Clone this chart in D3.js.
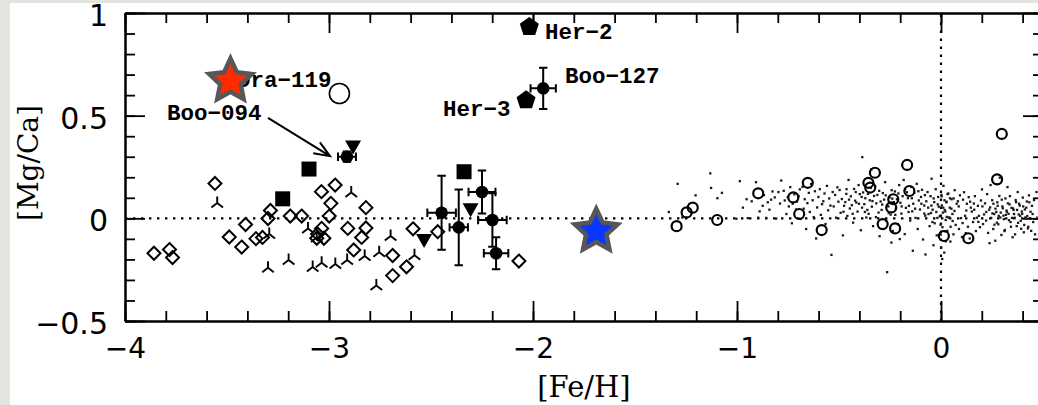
<!DOCTYPE html>
<html>
<head>
<meta charset="utf-8">
<script src="https://cdn.jsdelivr.net/npm/d3@7"></script>
<style>
  html, body { margin: 0; padding: 0; background: #e4e4e0; }
  svg { display: block; }
</style>
</head>
<body>
<svg id="chart" width="1038" height="405"></svg>
<script>
// ---- data: [Fe/H], [Mg/Ca] pairs ----
const diamonds = [
  [-3.858,-0.170],[-3.782,-0.152],[-3.767,-0.191],[-3.559,0.170],[-3.489,-0.091],
  [-3.428,-0.140],[-3.409,-0.030],[-3.358,-0.099],[-3.326,-0.093],[-3.299,-0.001],
  [-3.287,0.038],[-3.190,0.011],[-3.134,0.011],[-3.037,0.130],[-2.970,0.162],
  [-2.991,0.073],[-2.999,0.011],[-3.036,-0.049],[-3.056,-0.076],[-3.025,-0.097],
  [-3.060,-0.097],[-2.908,-0.049],[-2.819,0.052],[-2.819,-0.047],[-2.840,-0.093],
  [-2.879,-0.154],[-2.688,-0.181],[-2.688,-0.279],[-2.620,-0.236],[-2.588,-0.051],
  [-2.467,-0.065],[-2.069,-0.208]
];
const wyes = [
  [-3.548,0.075],[-3.299,-0.241],[-3.198,-0.203],[-3.293,-0.076],[-3.103,-0.049],
  [-3.080,-0.237],[-3.036,-0.216],[-3.060,-0.093],[-2.969,-0.223],[-2.911,-0.203],
  [-2.891,0.126],[-2.825,-0.184],[-2.768,-0.327],[-2.754,-0.165],[-2.698,-0.086],
  [-2.581,-0.180]
];
const openCircles = [
  [-1.296,-0.038],[-1.247,0.029],[-1.217,0.052],[-1.097,-0.008],[-0.896,0.122],
  [-0.724,0.102],[-0.695,0.021],[-0.653,0.173],[-0.585,-0.057],[-0.356,0.173],
  [-0.347,0.150],[-0.324,0.222],[-0.286,-0.028],[-0.244,0.053],[-0.234,0.093],
  [-0.225,-0.049],[-0.166,0.260],[-0.155,0.133],[0.014,-0.086],[0.134,-0.097],
  [0.275,0.190],[0.298,0.411]
];
const squares = [[-3.098,0.240],[-3.227,0.095],[-2.338,0.227]];
const triangles = [[-2.882,0.350],[-2.306,0.044],[-2.534,-0.106]];
const pentagons = [[-2.018,0.937],[-2.034,0.580]];
// filled points with errors: [Fe/H], [Mg/Ca], err[Fe/H], err[Mg/Ca]
const errPoints = [
  [-2.912,0.300,0.044,0.025],
  [-1.950,0.633,0.062,0.100],
  [-2.448,0.027,0.070,0.180],
  [-2.364,-0.044,0.045,0.185],
  [-2.250,0.128,0.066,0.105],
  [-2.199,-0.008,0.070,0.130],
  [-2.181,-0.170,0.060,0.078]
];
const draHollow = [-2.949,0.608];
const redStar = [-3.483,0.669];
const blueStar = [-1.690,-0.063];
const labelNames = ["Dra\u2212119","Boo\u2212094","Her\u22122","Boo\u2212127","Her\u22123"];
const labelAnchors = [[-3.451,0.639],[-3.794,0.480],[-1.941,0.873],[-1.843,0.659],[-2.441,0.500]];
const arrowFrom = [-3.299,0.489];
const arrowTo = [-2.995,0.303];
const xMajorTicks = [-4,-3,-2,-1,0];
const yMajorTicks = [-0.5,0,0.5,1];

// Milky Way field stars
const diskDots = [
  [-1.334,0.031],[-1.291,0.168],[-1.268,0.004],[-1.203,0.112],[-1.131,0.219],[-1.127,0.148],[-1.096,0.098],[-1.074,0.124],
  [-1.003,-0.002],[-0.986,0.181],[-0.971,0.052],[-0.953,0.093],[-0.947,0.001],[-0.928,0.083],
  [-0.907,0.176],[-0.896,0.003],[-0.889,0.034],[-0.874,0.061],[-0.868,0.113],[-0.857,0.002],[-0.849,0.078],
  [-0.841,0.042],[-0.833,0.091],[-0.826,0.131],[-0.815,0.102],[-0.808,-0.001],
  [-0.797,0.128],[-0.789,0.072],[-0.783,0.184],[-0.771,0.134],[-0.766,0.087],[-0.758,0.021],
  [-0.751,0.103],[-0.746,0.058],[-0.739,0.152],[-0.731,-0.024],[-0.727,0.071],[-0.719,0.117],[-0.711,0.043],
  [-0.706,0.082],[-0.698,0.108],[-0.692,0.141],[-0.687,-0.003],[-0.679,0.153],[-0.673,0.047],[-0.668,0.093],[-0.661,-0.052],
  [-0.655,0.074],[-0.648,0.124],[-0.643,0.031],[-0.637,0.167],[-0.629,0.088],[-0.624,0.006],[-0.618,0.132],[-0.612,-0.098],
  [-0.607,0.053],[-0.601,0.104],[-0.594,0.142],[-0.589,0.017],[-0.583,0.069],[-0.577,0.083],[-0.571,0.121],[-0.566,-0.028],[-0.559,0.158],
  [-0.553,0.039],[-0.548,0.097],[-0.542,0.062],[-0.537,-0.178],[-0.531,0.128],[-0.526,0.058],[-0.519,0.114],[-0.514,0.003],[-0.508,0.151],[-0.503,0.081],
  [-0.497,0.138],[-0.492,0.027],[-0.486,0.094],[-0.481,-0.083],[-0.475,0.061],[-0.469,0.079],[-0.464,0.119],[-0.459,0.012],[-0.453,0.187],[-0.447,0.048],
  [-0.442,0.107],[-0.437,0.064],[-0.431,-0.021],[-0.426,0.143],[-0.421,0.086],
  [-0.415,0.077],[-0.409,0.033],[-0.404,0.162],[-0.398,0.118],[-0.393,-0.058],[-0.387,0.052],
  [-0.382,0.126],[-0.376,0.069],[-0.371,0.098],[-0.366,0.004],[-0.361,0.041],
  [-0.355,0.022],[-0.349,0.088],[-0.344,0.148],[-0.339,0.057],[-0.333,-0.038],[-0.328,0.109],
  [-0.323,0.157],[-0.317,0.073],[-0.312,0.114],[-0.306,0.028],[-0.301,-0.087],[-0.296,0.082],
  [-0.291,0.041],[-0.285,0.123],[-0.279,0.091],[-0.274,0.176],[-0.269,-0.012],[-0.263,0.063],
  [-0.258,0.058],[-0.252,0.102],[-0.247,0.018],[-0.242,0.137],[-0.236,-0.062],[-0.231,0.079],
  [-0.386,0.298],[-0.226,0.131],[-0.221,0.047],[-0.216,0.093],[-0.211,-0.029],[-0.205,0.162],
  [-0.199,0.076],[-0.194,0.023],[-0.188,0.108],[-0.183,0.187],[-0.178,-0.077],[-0.172,0.051],[-0.167,0.127],
  [-0.341,0.238],[-0.162,0.098],[-0.157,0.061],[-0.151,-0.011],[-0.146,0.153],[-0.141,0.034],
  [-0.136,0.071],[-0.131,0.124],[-0.125,0.002],[-0.119,0.168],[-0.114,-0.052],[-0.109,0.087],
  [-0.103,0.043],[-0.098,0.104],[-0.093,0.139],[-0.088,-0.103],[-0.082,0.062],[-0.077,0.013],
  [-0.072,0.083],[-0.066,0.128],[-0.061,0.021],[-0.056,-0.038],[-0.051,0.108],[-0.046,0.193],
  [-0.041,0.042],[-0.036,0.097],[-0.031,-0.024],[-0.026,0.142],[-0.021,-0.083],[-0.016,0.068],[-0.264,-0.262],
  [-0.011,0.057],[-0.006,0.009],[0.002,0.114],[0.007,-0.043],[0.012,0.158],[0.017,0.088],
  [-0.243,-0.118],[0.021,0.033],[0.026,0.078],[0.031,-0.061],[0.036,0.121],[0.041,0.004],[0.046,-0.113],
  [-0.202,-0.101],[0.051,0.047],[0.057,-0.013],[0.062,0.097],[0.067,0.137],[0.072,-0.032],[0.077,0.071],[-0.138,-0.158],
  [-0.082,0.023],[-0.076,-0.176],[0.083,0.083],[0.088,-0.052],[0.093,0.112],[0.098,0.001],[0.103,-0.091],
  [-0.047,0.062],[-0.042,-0.018],[0.108,0.091],[0.113,0.127],[0.118,0.012],[0.122,-0.072],[-0.037,-0.131],
  [-0.023,0.031],[-0.018,0.002],[0.127,0.071],[0.132,-0.041],[0.136,0.103],[0.141,-0.098],[0.146,0.052],
  [-0.004,0.012],[-0.002,-0.031],[0.004,0.063],[0.003,0.107],[-0.001,-0.079],[0.001,-0.142],[0.006,-0.198],[0.009,0.028],
  [0.018,0.041],[0.023,-0.008],[0.027,0.081],[0.019,-0.063],[0.032,0.118],[0.024,-0.112],[0.016,-0.167],
  [0.038,0.003],[0.043,0.052],[0.047,-0.041],[0.052,0.093],[0.056,0.021],[0.061,-0.078],
  [0.151,0.033],[0.157,-0.018],[0.161,0.072],[0.166,0.108],[0.171,-0.062],[0.176,0.003],
  [0.181,0.061],[0.186,0.012],[0.191,-0.043],[0.196,0.087],[0.201,0.141],[0.206,-0.028],
  [0.211,0.019],[0.216,0.073],[0.221,-0.011],[0.226,0.118],[0.231,-0.071],[0.236,0.042],
  [0.241,0.053],[0.246,0.002],[0.251,0.088],[0.256,-0.052],[0.261,0.021],[0.266,-0.109],
  [0.271,0.031],[0.276,0.078],[0.281,-0.029],[0.286,0.109],[0.291,0.004],[0.296,-0.081],
  [0.301,0.058],[0.306,0.013],[0.311,-0.062],[0.316,0.097],[0.321,0.038],[0.326,0.152],
  [0.331,0.022],[0.336,0.068],[0.341,-0.018],[0.346,0.051],[0.351,-0.092],
  [0.356,0.041],[0.361,0.003],[0.366,0.089],[0.371,-0.038],[0.376,0.128],[0.381,0.019],
  [0.386,0.062],[0.391,-0.012],[0.396,0.033],[0.401,0.101],[0.406,-0.068],
  [0.252,0.024],[0.257,0.071],[0.262,-0.031],[0.267,0.047],[0.243,0.162],[0.238,-0.121],
  [0.411,0.043],[0.416,0.001],[0.421,0.082],[0.426,-0.049],[0.431,0.112],
  [0.283,0.012],[0.278,0.061],[0.288,0.198],[0.274,-0.021],[0.293,0.028],
  [0.303,0.049],[0.308,-0.004],[0.298,0.091],[0.313,-0.057],[0.318,0.017],
  [0.323,0.032],[0.328,0.073],[0.333,-0.009],[0.338,0.108],[0.343,-0.041],
  [0.348,0.002],[0.353,0.048],[0.358,0.021],[0.363,-0.078],[0.368,0.079],
  [0.373,0.041],[0.378,-0.022],[0.383,0.071],[0.388,0.012],[0.393,-0.051],
  [0.398,0.022],[0.403,0.058],[0.408,-0.032],[0.413,0.004],
  [0.418,0.052],[0.423,0.011],[0.428,-0.041],[0.433,0.078],
  [0.436,0.001],[0.439,0.032],[0.442,-0.061],[0.446,0.061],
  [0.449,0.021],[0.452,-0.018],[0.456,0.089],[0.461,-0.078],[0.468,0.128],[0.472,0.003],
  [-0.478,0.032],[-0.463,0.142],[-0.451,0.091],[-0.433,0.022],[-0.418,0.128],[-0.402,0.071],
  [-0.389,0.104],[-0.373,0.031],[-0.358,0.119],[-0.336,0.084],[-0.319,0.006],[-0.303,0.134],
  [-0.288,0.067],[-0.271,0.112],[-0.256,0.026],[-0.239,0.096],[-0.224,0.017],[-0.209,0.121],
  [-0.193,0.058],[-0.176,0.141],[-0.159,0.031],[-0.143,0.098],[-0.127,0.047],[-0.111,0.132],
  [-0.096,0.071],[-0.079,0.113],[-0.063,0.052],[-0.049,0.026],[-0.033,0.079],[-0.014,0.104],
  [0.011,0.052],[0.028,0.007],[0.044,0.098],[0.066,0.036],[0.087,0.058],[0.106,-0.023],
  [0.124,0.038],[0.143,0.081],[0.163,0.042],[0.183,-0.017],[0.203,0.058],[0.222,0.031]
];

// ---- layout ----
const svg = d3.select("#chart");
const W = 1038, H = 405;
const x = d3.scaleLinear().domain([-4, 0.5]).range([125, 1043]);
const y = d3.scaleLinear().domain([-0.5, 1]).range([321, 13]);

// white panel on the grey page
svg.append("rect").attr("x", 10).attr("y", 3).attr("width", W - 10).attr("height", H - 3).attr("fill", "#ffffff");

const ink = "#000";

// reference lines at [Mg/Ca]=0 and [Fe/H]=0
svg.append("line")
  .attr("x1", x(-4)).attr("x2", x(0.5)).attr("y1", y(0)).attr("y2", y(0))
  .attr("stroke", ink).attr("stroke-width", 2.2).attr("stroke-dasharray", "2.4 5.6");
svg.append("line")
  .attr("x1", x(0)).attr("x2", x(0)).attr("y1", y(-0.5)).attr("y2", y(1))
  .attr("stroke", ink).attr("stroke-width", 2.2).attr("stroke-dasharray", "2.4 5.6");

// ---- axes: inward major and minor ticks on all four sides ----
const minorX = d3.range(-4, 0.501, 0.2);
const minorY = d3.range(-0.5, 1.001, 0.1);
const fmt = d3.format("");

function styleAxis(g) {
  g.select(".domain").attr("stroke", ink).attr("stroke-width", 2);
  g.selectAll(".tick line").attr("stroke", ink).attr("stroke-width", 1.8);
}

// bottom
svg.append("g").attr("transform", `translate(0,${y(-0.5)})`)
  .call(d3.axisBottom(x).tickValues(minorX).tickSize(-10).tickSizeOuter(0).tickFormat(""))
  .call(styleAxis);
svg.append("g").attr("transform", `translate(0,${y(-0.5)})`)
  .call(d3.axisBottom(x).tickValues(xMajorTicks).tickSize(-20).tickSizeOuter(0).tickPadding(17)
    .tickFormat(d => fmt(d)))
  .call(styleAxis)
  .call(g => g.selectAll("text").attr("fill", ink)
    .style("font-family", "'DejaVu Sans', sans-serif").style("font-size", "28px"));
// top
svg.append("g").attr("transform", `translate(0,${y(1)})`)
  .call(d3.axisTop(x).tickValues(minorX).tickSize(-10).tickSizeOuter(0).tickFormat(""))
  .call(styleAxis);
svg.append("g").attr("transform", `translate(0,${y(1)})`)
  .call(d3.axisTop(x).tickValues(xMajorTicks).tickSize(-20).tickSizeOuter(0).tickFormat(""))
  .call(styleAxis);
// left
svg.append("g").attr("transform", `translate(${x(-4)},0)`)
  .call(d3.axisLeft(y).tickValues(minorY).tickSize(-10).tickSizeOuter(0).tickFormat(""))
  .call(styleAxis);
svg.append("g").attr("transform", `translate(${x(-4)},0)`)
  .call(d3.axisLeft(y).tickValues(yMajorTicks).tickSize(-20).tickSizeOuter(0).tickPadding(17)
    .tickFormat(d => fmt(d)))
  .call(styleAxis)
  .call(g => g.selectAll("text").attr("fill", ink).attr("dy", "0.42em")
    .style("font-family", "'DejaVu Sans', sans-serif").style("font-size", "30px"));
// right
svg.append("g").attr("transform", `translate(${x(0.5)},0)`)
  .call(d3.axisRight(y).tickValues(minorY).tickSize(-10).tickSizeOuter(0).tickFormat(""))
  .call(styleAxis);
svg.append("g").attr("transform", `translate(${x(0.5)},0)`)
  .call(d3.axisRight(y).tickValues(yMajorTicks).tickSize(-20).tickSizeOuter(0).tickFormat(""))
  .call(styleAxis);

// axis titles
svg.append("text")
  .attr("x", 584).attr("y", 397).attr("text-anchor", "middle")
  .style("font-family", "'DejaVu Serif', serif").style("font-size", "29px").attr("fill", ink)
  .text("[Fe/H]");
svg.append("text")
  .attr("transform", "translate(38,163) rotate(-90)").attr("text-anchor", "middle")
  .style("font-family", "'DejaVu Serif', serif").style("font-size", "28px").attr("fill", ink)
  .text("[Mg/Ca]");

// ---- marks ----
const marks = svg.append("g");

// field stars
marks.append("g").selectAll("rect").data(diskDots).join("rect")
  .attr("x", d => x(d[0]) - 1.15).attr("y", d => y(d[1]) - 1.15)
  .attr("width", 2.3).attr("height", 2.3).attr("fill", "#1a1a1a");

// open diamonds
marks.append("g").selectAll("path").data(diamonds).join("path")
  .attr("transform", d => `translate(${x(d[0])},${y(d[1])})`)
  .attr("d", "M0,-6.5L6.5,0L0,6.5L-6.5,0Z")
  .attr("fill", "none").attr("stroke", ink).attr("stroke-width", 2);

// three-armed markers
marks.append("g").selectAll("path").data(wyes).join("path")
  .attr("transform", d => `translate(${x(d[0])},${y(d[1])})`)
  .attr("d", "M0,0L0,-6.5M0,0L-5.8,4.5M0,0L5.8,4.5")
  .attr("fill", "none").attr("stroke", ink).attr("stroke-width", 1.9);

// open circles
marks.append("g").selectAll("circle").data(openCircles).join("circle")
  .attr("cx", d => x(d[0])).attr("cy", d => y(d[1])).attr("r", 5)
  .attr("fill", "none").attr("stroke", ink).attr("stroke-width", 2.2);

// filled squares
marks.append("g").selectAll("rect").data(squares).join("rect")
  .attr("x", d => x(d[0]) - 7.5).attr("y", d => y(d[1]) - 7.5)
  .attr("width", 15).attr("height", 15).attr("fill", ink);

// error bars and filled circles
const eb = marks.append("g").attr("stroke", ink).attr("stroke-width", 2).attr("fill", "none");
errPoints.forEach(([fx, fy, ex, ey]) => {
  const cx = x(fx), cy = y(fy);
  const x0 = x(fx - ex), x1 = x(fx + ex), y0 = y(fy - ey), y1 = y(fy + ey);
  const c = 4.2;
  eb.append("path").attr("d",
    `M${x0},${cy}H${x1}M${x0},${cy - c}V${cy + c}M${x1},${cy - c}V${cy + c}` +
    `M${cx},${y0}V${y1}M${cx - c},${y0}H${cx + c}M${cx - c},${y1}H${cx + c}`);
});
marks.append("g").selectAll("circle").data(errPoints).join("circle")
  .attr("cx", d => x(d[0])).attr("cy", d => y(d[1])).attr("r", 6.3).attr("fill", ink);

// filled downward triangles
marks.append("g").selectAll("path").data(triangles).join("path")
  .attr("transform", d => `translate(${x(d[0])},${y(d[1])})`)
  .attr("d", "M-8,-6L8,-6L0,8Z").attr("fill", ink);

// filled pentagons
const pent = d3.range(5).map(i => {
  const a = -Math.PI / 2 + i * 2 * Math.PI / 5;
  return [10 * Math.cos(a), 10 * Math.sin(a) + 1];
});
marks.append("g").selectAll("path").data(pentagons).join("path")
  .attr("transform", d => `translate(${x(d[0])},${y(d[1])})`)
  .attr("d", "M" + pent.join("L") + "Z").attr("fill", ink);

// big open circle
marks.append("circle").attr("cx", x(draHollow[0])).attr("cy", y(draHollow[1])).attr("r", 10)
  .attr("fill", "none").attr("stroke", ink).attr("stroke-width", 1.6);

// labels
marks.append("g").selectAll("text").data(labelNames).join("text")
  .attr("x", (d, i) => x(labelAnchors[i][0])).attr("y", (d, i) => y(labelAnchors[i][1]))
  .style("font-family", "'Liberation Mono', 'Courier New', monospace")
  .style("font-weight", "bold").style("font-size", "22.5px").attr("fill", ink)
  .text(d => d);

// arrow to Boo-094
{
  const ax0 = x(arrowFrom[0]), ay0 = y(arrowFrom[1]);
  const ax1 = x(arrowTo[0]), ay1 = y(arrowTo[1]);
  const ang = Math.atan2(ay1 - ay0, ax1 - ax0);
  const L = 17, spread = 0.38;
  const h1 = [ax1 - L * Math.cos(ang - spread), ay1 - L * Math.sin(ang - spread)];
  const h2 = [ax1 - L * Math.cos(ang + spread), ay1 - L * Math.sin(ang + spread)];
  marks.append("path")
    .attr("d", `M${ax0},${ay0}L${ax1},${ay1}M${h1[0]},${h1[1]}L${ax1},${ay1}L${h2[0]},${h2[1]}`)
    .attr("fill", "none").attr("stroke", ink).attr("stroke-width", 2);
}

// highlighted stars
function starPath(R, r) {
  const pts = d3.range(10).map(i => {
    const a = -Math.PI / 2 + i * Math.PI / 5;
    const rr = i % 2 === 0 ? R : r;
    return [rr * Math.cos(a), rr * Math.sin(a)];
  });
  return "M" + pts.join("L") + "Z";
}
[[redStar, "#ff2a00"], [blueStar, "#0a36ff"]].forEach(([p, col]) => {
  marks.append("path")
    .attr("transform", `translate(${x(p[0])},${y(p[1])})`)
    .attr("d", starPath(22.5, 10.8))
    .attr("fill", col).attr("stroke", "#575757").attr("stroke-width", 4.5)
    .attr("stroke-linejoin", "miter");
});
</script>
</body>
</html>
